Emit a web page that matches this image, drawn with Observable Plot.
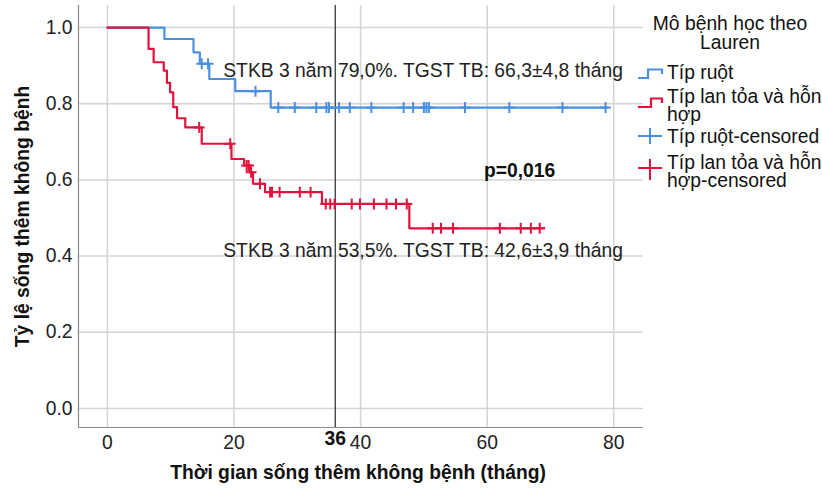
<!DOCTYPE html>
<html>
<head>
<meta charset="utf-8">
<script src="https://cdn.jsdelivr.net/npm/d3@7"></script>
<script src="https://cdn.jsdelivr.net/npm/@observablehq/plot@0.6"></script>
<style>
  body { margin: 0; background: #fff; }
  #wrap { position: relative; width: 822px; height: 493px; font-family: "Liberation Sans", Arial, sans-serif; }
  #legend { position: absolute; left: 0; top: 0; width: 822px; height: 493px; pointer-events: none; }
  .lg { position: absolute; font-size: 19.3px; line-height: 18.5px; color: #111; white-space: nowrap; }
</style>
</head>
<body>
<div id="wrap"></div>
<script>
// ---- data ----
const groupNames = ["Típ ruột", "Típ lan tỏa và hỗn hợp"];
const legendLabels = ["Típ ruột", "Típ lan tỏa và hỗn<br>hợp", "Típ ruột-censored", "Típ lan tỏa và hỗn<br>hợp-censored"];
const legendTitle = "Mô bệnh học theo<br>Lauren";

// Típ ruột: step curve (event times, survival)
const blueTimes = [0, 9.0, 13.6, 14.6, 16.1, 20.2, 25.8, 79.0];
const blueSurv  = [1.0, 0.970, 0.935, 0.905, 0.865, 0.833, 0.790, 0.790];
const blueCensor = [14.9, 15.9, 23.4, 27.0, 29.6, 33.0, 34.6, 35.0, 36.6, 38.3, 41.7, 46.8, 48.3, 50.0, 50.4, 50.8, 56.5, 63.5, 71.9, 78.7];

// Típ lan tỏa và hỗn hợp
const redTimes = [0, 6.5, 7.3, 8.9, 9.4, 9.9, 10.4, 11.0, 12.3, 14.9, 19.6, 21.6, 22.5, 23.0, 24.9, 33.9, 47.7, 69.0];
const redSurv  = [1.0, 0.944, 0.909, 0.887, 0.855, 0.830, 0.791, 0.762, 0.738, 0.695, 0.655, 0.638, 0.620, 0.590, 0.568, 0.537, 0.473, 0.473];
const redCensor = [14.5, 19.4, 22.0, 22.3, 22.7, 24.1, 25.7, 26.0, 27.2, 30.4, 32.1, 34.5, 35.2, 35.9, 38.6, 39.9, 42.1, 44.1, 45.6, 47.3, 51.4, 52.7, 54.6, 62.0, 65.3, 66.9, 68.3];

const xTicks = [0, 20, 40, 60, 80];
const yTicks = [0, 0.2, 0.4, 0.6, 0.8, 1.0];
const cutoff = [36];
const annotations = [
  "STKB 3 năm 79,0%. TGST TB: 66,3±4,8 tháng",
  "STKB 3 năm 53,5%. TGST TB: 42,6±3,9 tháng",
  "p=0,016"
];
const xTitle = "Thời gian sống thêm không bệnh (tháng)";
const yTitle = "Tỷ lệ sống thêm không bệnh";

const colors = ["#4a90e2", "#e2123c"];

// ---- build tables ----
function curve(times, surv, g) { return times.map((t, i) => ({t, s: surv[i], g})); }
function stepAt(times, surv, t) { let s = surv[0]; for (let i = 0; i < times.length; i++) if (times[i] <= t) s = surv[i]; return s; }
const lines = [...curve(blueTimes, blueSurv, groupNames[0]), ...curve(redTimes, redSurv, groupNames[1])];
const censors = [
  ...blueCensor.map(t => ({t, s: stepAt(blueTimes, blueSurv, t), g: groupNames[0]})),
  ...redCensor.map(t => ({t, s: stepAt(redTimes, redSurv, t), g: groupNames[1]}))
];

const font = "Liberation Sans, Arial, sans-serif";
const fs = 19.3;

const chart = Plot.plot({
  width: 822,
  height: 493,
  marginLeft: 78,
  marginRight: 179,
  marginTop: 5,
  marginBottom: 66,
  style: { fontFamily: font, fontSize: fs + "px", background: "#fff", overflow: "visible" },
  x: { domain: [-4.57, 84.7], axis: null },
  y: { domain: [-0.05, 1.058], axis: null },
  color: { domain: groupNames, range: colors },
  marks: [
    Plot.ruleX(xTicks, { stroke: "#d4d4d4", strokeWidth: 1.5 }),
    Plot.ruleY(yTicks, { stroke: "#d4d4d4", strokeWidth: 1.5 }),
    Plot.ruleX([-4.57], { stroke: "#8a8a8a", strokeWidth: 1.2 }),
    Plot.ruleY([-0.05], { stroke: "#8a8a8a", strokeWidth: 1.2 }),
    Plot.ruleX(cutoff, { stroke: "#3a3a3a", strokeWidth: 1.3 }),
    Plot.line(lines, { x: "t", y: "s", z: "g", stroke: "g", curve: "step-after", strokeWidth: 2.2 }),
    Plot.dot(censors, { x: "t", y: "s", stroke: "g", symbol: "plus", r: 3.6, strokeWidth: 2 }),
    Plot.axisX({ ticks: xTicks, tickSize: 0, tickPadding: 8, fontSize: fs, fill: "#222", label: null }),
    Plot.axisY({ ticks: yTicks, tickSize: 0, tickPadding: 6, tickFormat: d3.format(".1f"), fontSize: fs, fill: "#222", label: null }),
    Plot.text(cutoff, { x: d => d, frameAnchor: "bottom", lineAnchor: "top", dy: 4, text: d => String(d), fontWeight: "bold", fontSize: fs, fill: "#111" }),
    Plot.text([annotations[0]], { x: 18.3, y: 0.887, text: d => d, textAnchor: "start", fontSize: fs, fill: "#222" }),
    Plot.text([annotations[1]], { x: 18.3, y: 0.415, text: d => d, textAnchor: "start", fontSize: fs, fill: "#222" }),
    Plot.text([annotations[2]], { x: 59.5, y: 0.625, text: d => d, textAnchor: "start", fontSize: fs, fontWeight: "bold", fill: "#111" }),
    Plot.text([xTitle], { frameAnchor: "bottom", dy: 51, dx: -3, textAnchor: "middle", text: d => d, fontWeight: "bold", fontSize: fs, fill: "#111" }),
    Plot.text([yTitle], { frameAnchor: "left", textAnchor: "middle", rotate: -90, dx: -56, text: d => d, fontWeight: "bold", fontSize: fs, fill: "#111" })
  ]
});

const wrap = document.getElementById("wrap");
wrap.appendChild(chart);

// ---- legend (HTML overlay at right) ----
const lg = document.createElement("div");
lg.id = "legend";
lg.innerHTML = `
  <div class="lg" style="left:650px;top:13.5px;width:160px;text-align:center;line-height:19px;">${legendTitle}</div>
  <svg style="position:absolute;left:0;top:0" width="822" height="493">
    <path d="M638,78H648V69.5H662V74" fill="none" stroke="${colors[0]}" stroke-width="2.2"/>
    <path d="M638,107H651V98.5H662V103" fill="none" stroke="${colors[1]}" stroke-width="2.2"/>
    <path d="M638,136H662M650,128V144" fill="none" stroke="${colors[0]}" stroke-width="2"/>
    <path d="M638,168H662M650,159V180" fill="none" stroke="${colors[1]}" stroke-width="2"/>
  </svg>
  <div class="lg" style="left:667px;top:63.5px;">${legendLabels[0]}</div>
  <div class="lg" style="left:667px;top:87.5px;">${legendLabels[1]}</div>
  <div class="lg" style="left:667px;top:127.5px;">${legendLabels[2]}</div>
  <div class="lg" style="left:667px;top:153.5px;">${legendLabels[3]}</div>
`;
wrap.appendChild(lg);
</script>
</body>
</html>
